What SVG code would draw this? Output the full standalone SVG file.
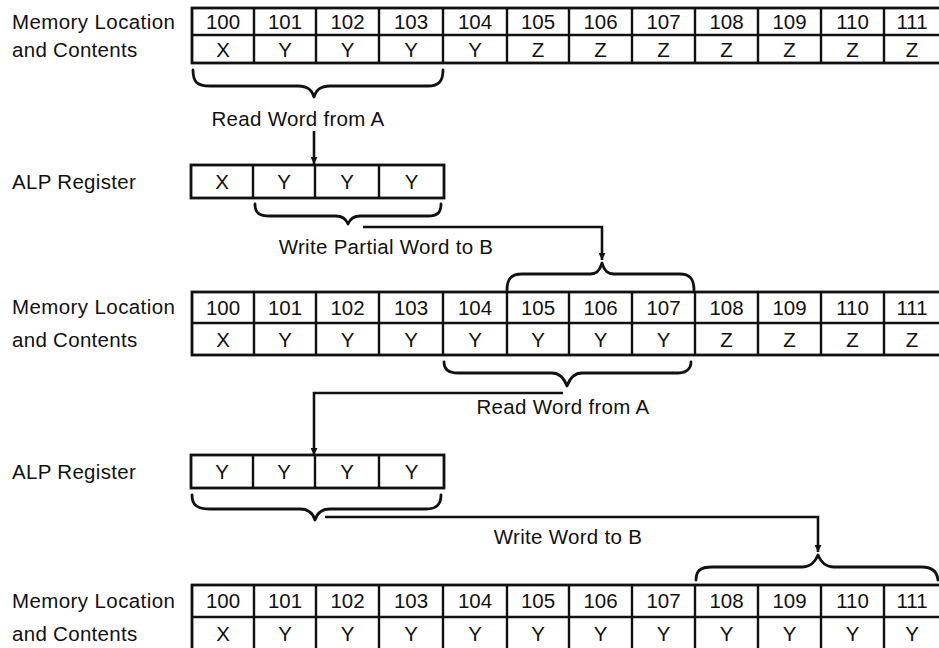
<svg xmlns="http://www.w3.org/2000/svg" width="939" height="648" viewBox="0 0 939 648">
<defs>
<style>
text{font-family:"Liberation Sans",Arial,Helvetica,sans-serif;font-size:20.5px;fill:#111}
.c{text-anchor:middle}
.lab{letter-spacing:0.3px}
.box{fill:#fff;stroke:#111;stroke-width:2.8}
.ln{stroke:#111;stroke-width:2.4;fill:none}
.br{stroke:#111;stroke-width:2.8;fill:none;stroke-linejoin:round;stroke-linecap:round}
.cn{stroke:#111;stroke-width:2.6;fill:none}
</style>
<marker id="ah" viewBox="0 0 10 10" refX="10" refY="5" markerWidth="7" markerHeight="7" markerUnits="userSpaceOnUse" orient="auto">
<path d="M0,0 L10,5 L0,10 z" fill="#111"/>
</marker>
</defs>
<rect width="939" height="648" fill="#fff"/>

<g id="labels" class="lab">
<text x="12" y="29" letter-spacing="0.4">Memory Location</text>
<text x="12" y="57">and Contents</text>
<text x="12" y="189">ALP Register</text>
<text x="12" y="314" letter-spacing="0.4">Memory Location</text>
<text x="12" y="347">and Contents</text>
<text x="12" y="479">ALP Register</text>
<text x="12" y="608" letter-spacing="0.4">Memory Location</text>
<text x="12" y="641">and Contents</text>
</g>

<g id="memory1">
<rect class="box" x="192" y="8" width="754" height="55"/>
<path class="ln" d="M192,35H946 M254,8V63 M316,8V63 M379,8V63 M443,8V63 M507,8V63 M569,8V63 M632,8V63 M695,8V63 M758,8V63 M821,8V63 M884,8V63"/>
<g class="c">
<text x="223" y="29">100</text><text x="285" y="29">101</text><text x="347.5" y="29">102</text><text x="411" y="29">103</text><text x="475" y="29">104</text><text x="538" y="29">105</text><text x="600.5" y="29">106</text><text x="663.5" y="29">107</text><text x="726.5" y="29">108</text><text x="789.5" y="29">109</text><text x="852.5" y="29">110</text><text x="912" y="29">111</text>
<text x="223" y="57">X</text><text x="285" y="57">Y</text><text x="347.5" y="57">Y</text><text x="411" y="57">Y</text><text x="475" y="57">Y</text><text x="538" y="57">Z</text><text x="600.5" y="57">Z</text><text x="663.5" y="57">Z</text><text x="726.5" y="57">Z</text><text x="789.5" y="57">Z</text><text x="852.5" y="57">Z</text><text x="912" y="57">Z</text>
</g>
</g>

<g id="register1">
<rect class="box" x="191" y="165" width="253" height="33"/>
<path class="ln" d="M253,165V198 M315,165V198 M379,165V198"/>
<g class="c">
<text x="222" y="189">X</text><text x="284" y="189">Y</text><text x="347" y="189">Y</text><text x="411.5" y="189">Y</text>
</g>
</g>

<g id="memory2">
<rect class="box" x="192" y="292" width="754" height="63"/>
<path class="ln" d="M192,323H946 M254,292V355 M316,292V355 M379,292V355 M443,292V355 M507,292V355 M569,292V355 M632,292V355 M695,292V355 M758,292V355 M821,292V355 M884,292V355"/>
<g class="c">
<text x="223" y="315">100</text><text x="285" y="315">101</text><text x="347.5" y="315">102</text><text x="411" y="315">103</text><text x="475" y="315">104</text><text x="538" y="315">105</text><text x="600.5" y="315">106</text><text x="663.5" y="315">107</text><text x="726.5" y="315">108</text><text x="789.5" y="315">109</text><text x="852.5" y="315">110</text><text x="912" y="315">111</text>
<text x="223" y="347">X</text><text x="285" y="347">Y</text><text x="347.5" y="347">Y</text><text x="411" y="347">Y</text><text x="475" y="347">Y</text><text x="538" y="347">Y</text><text x="600.5" y="347">Y</text><text x="663.5" y="347">Y</text><text x="726.5" y="347">Z</text><text x="789.5" y="347">Z</text><text x="852.5" y="347">Z</text><text x="912" y="347">Z</text>
</g>
</g>

<g id="register2">
<rect class="box" x="191" y="455" width="253" height="33"/>
<path class="ln" d="M253,455V488 M315,455V488 M379,455V488"/>
<g class="c">
<text x="222" y="479">Y</text><text x="284" y="479">Y</text><text x="347" y="479">Y</text><text x="411.5" y="479">Y</text>
</g>
</g>

<g id="memory3">
<rect class="box" x="192" y="585" width="754" height="70"/>
<path class="ln" d="M192,617H946 M254,585V655 M316,585V655 M379,585V655 M443,585V655 M507,585V655 M569,585V655 M632,585V655 M695,585V655 M758,585V655 M821,585V655 M884,585V655"/>
<g class="c">
<text x="223" y="608">100</text><text x="285" y="608">101</text><text x="347.5" y="608">102</text><text x="411" y="608">103</text><text x="475" y="608">104</text><text x="538" y="608">105</text><text x="600.5" y="608">106</text><text x="663.5" y="608">107</text><text x="726.5" y="608">108</text><text x="789.5" y="608">109</text><text x="852.5" y="608">110</text><text x="912" y="608">111</text>
<text x="223" y="641">X</text><text x="285" y="641">Y</text><text x="347.5" y="641">Y</text><text x="411" y="641">Y</text><text x="475" y="641">Y</text><text x="538" y="641">Y</text><text x="600.5" y="641">Y</text><text x="663.5" y="641">Y</text><text x="726.5" y="641">Y</text><text x="789.5" y="641">Y</text><text x="852.5" y="641">Y</text><text x="912" y="641">Y</text>
</g>
</g>

<g id="connectors">
<path class="br" d="M193,70 C193,82 197,86 210,86 L298,86 C308,86 312,90 314,97 C316,90 320,86 330,86 L428,86 C438,86 443,82 443,70"/>
<text class="c lab" x="298" y="126">Read Word from A</text>
<path class="cn" d="M314,131V164" marker-end="url(#ah)"/>
<path class="br" d="M255,204 C255,213 259,216 270,216 L336,216 C343,216 346,219 348,224 C350,219 353,216 360,216 L428,216 C437,216 441,213 441,204"/>
<path class="cn" d="M363,227H602V260" marker-end="url(#ah)"/>
<text class="c lab" x="386" y="254">Write Partial Word to B</text>
<path class="br" d="M507,290 C507,279 511,274 522,274 L590,274 C597,274 600,270 602,263 C604,270 607,274 614,274 L680,274 C690,274 694,279 694,290"/>
<path class="br" d="M444,362 C444,369 448,373 458,373 L552,373 C560,373 564,378 567,386 C570,378 574,373 582,373 L677,373 C686,373 691,369 691,362"/>
<path class="cn" d="M563,393H314V455" marker-end="url(#ah)"/>
<text class="c lab" x="563" y="414">Read Word from A</text>
<path class="br" d="M192,495 C192,505 197,509 210,509 L300,509 C309,509 313,513 315,520 C317,513 321,509 330,509 L426,509 C436,509 441,505 441,495"/>
<path class="cn" d="M325,517H818V552" marker-end="url(#ah)"/>
<text class="c lab" x="568" y="544">Write Word to B</text>
<path class="br" d="M696,580 C696,571 700,567 712,567 L802,567 C811,567 815,562 818,555 C821,562 825,567 834,567 L922,567 C932,567 937,571 938,580"/>
</g>
</svg>
